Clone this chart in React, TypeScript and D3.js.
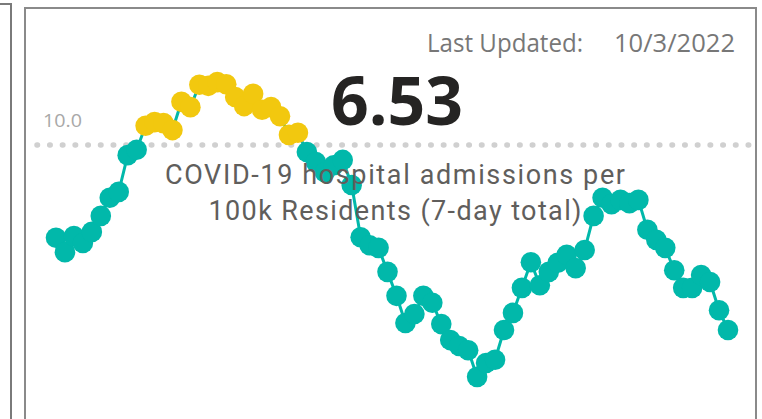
import React, { useRef, useEffect } from "react";
import * as d3 from "d3";

// 7-day hospital admissions per 100k, one value per day
const admissions = [
  8.26, 7.99, 8.29, 8.16, 8.37, 8.67, 9.01, 9.12, 9.81, 9.91,
  10.36, 10.43, 10.41, 10.28, 10.81, 10.71, 11.13, 11.11, 11.18, 11.14,
  10.9, 10.73, 10.96, 10.66, 10.71, 10.54, 10.19, 10.23, 9.87, 9.68,
  9.49, 9.62, 9.72, 9.25, 8.27, 8.12, 8.07, 7.62, 7.17, 6.66,
  6.83, 7.17, 7.04, 6.64, 6.34, 6.23, 6.15, 5.65, 5.91, 5.97,
  6.53, 6.85, 7.32, 7.8, 7.37, 7.62, 7.79, 7.94, 7.69, 8.03,
  8.67, 9.01, 8.89, 8.97, 8.91, 8.97, 8.41, 8.22, 8.07, 7.65,
  7.32, 7.32, 7.56, 7.43, 6.9, 6.53,
];
const threshold = 10;
const thresholdLabel = "10.0";
const latestValue = "6.53";
const updatedLabel = "Last Updated:";
const updatedDate = "10/3/2022";
const titleLines = ["COVID-19 hospital admissions per", "100k Residents (7-day total)"];
const titleWidths = [460, 373];

const W = 762;
const H = 419;

const App = () => {
  const ref = useRef<SVGGElement>(null);

  const x = d3.scaleLinear().domain([0, admissions.length - 1]).range([56, 728]);
  const y = d3.scaleLinear().domain([5, 12]).range([411.5, 38.4]);

  useEffect(() => {
    const g = d3.select(ref.current);
    g.selectAll("*").remove();

    const line = d3
      .line<number>()
      .x((d, i) => x(i))
      .y((d) => y(d));

    g.append("path")
      .datum(admissions)
      .attr("d", line)
      .attr("fill", "none")
      .attr("stroke", "#01B8AA")
      .attr("stroke-width", 3);

    g.selectAll("circle")
      .data(admissions)
      .enter()
      .append("circle")
      .attr("cx", (d, i) => x(i))
      .attr("cy", (d) => y(d))
      .attr("r", 10.3)
      .attr("fill", (d) => (d > threshold ? "#F2C80F" : "#01B8AA"));
  }, []);

  const ty = y(threshold);

  return (
    <svg
      width={W}
      height={H}
      style={{ position: "absolute", left: 0, top: 0, background: "#fff" }}
    >
      {/* neighbouring card edge */}
      <path d="M0,4 H11 V419" fill="none" stroke="#7a7a7a" strokeWidth={2} />
      {/* card frame */}
      <rect x={25} y={8} width={731} height={430} fill="#fff" stroke="#8a8a8a" strokeWidth={2} />

      <g fontFamily="'Open Sans', sans-serif" fontSize={25} fill="#777">
        <text x={427} y={52} textLength={156} lengthAdjust="spacingAndGlyphs">
          {updatedLabel}
        </text>
        <text x={614} y={52} textLength={121} lengthAdjust="spacingAndGlyphs">
          {updatedDate}
        </text>
      </g>

      <line
        x1={37}
        x2={752}
        y1={ty}
        y2={ty}
        stroke="#d0d0d0"
        strokeWidth={5.5}
        strokeLinecap="round"
        strokeDasharray="0.5 12.2"
      />
      <text
        x={43}
        y={127}
        fontFamily="'Open Sans', sans-serif"
        fontSize={17.5}
        fill="#a8a8a8"
        textLength={39}
        lengthAdjust="spacingAndGlyphs"
      >
        {thresholdLabel}
      </text>

      <g ref={ref} />

      <text
        x={397}
        y={125}
        textAnchor="middle"
        fontFamily="'Open Sans', sans-serif"
        fontWeight={700}
        fontSize={66}
        fill="#252423"
      >
        {latestValue}
      </text>
      {titleLines.map((t, i) => (
        <text
          key={i}
          x={395 - titleWidths[i] / 2}
          y={184 + i * 36}
          fontFamily="Roboto, sans-serif"
          fontSize={27}
          fill="#605E5C"
          textLength={titleWidths[i]}
          lengthAdjust="spacing"
        >
          {t}
        </text>
      ))}
    </svg>
  );
};

export default App;
